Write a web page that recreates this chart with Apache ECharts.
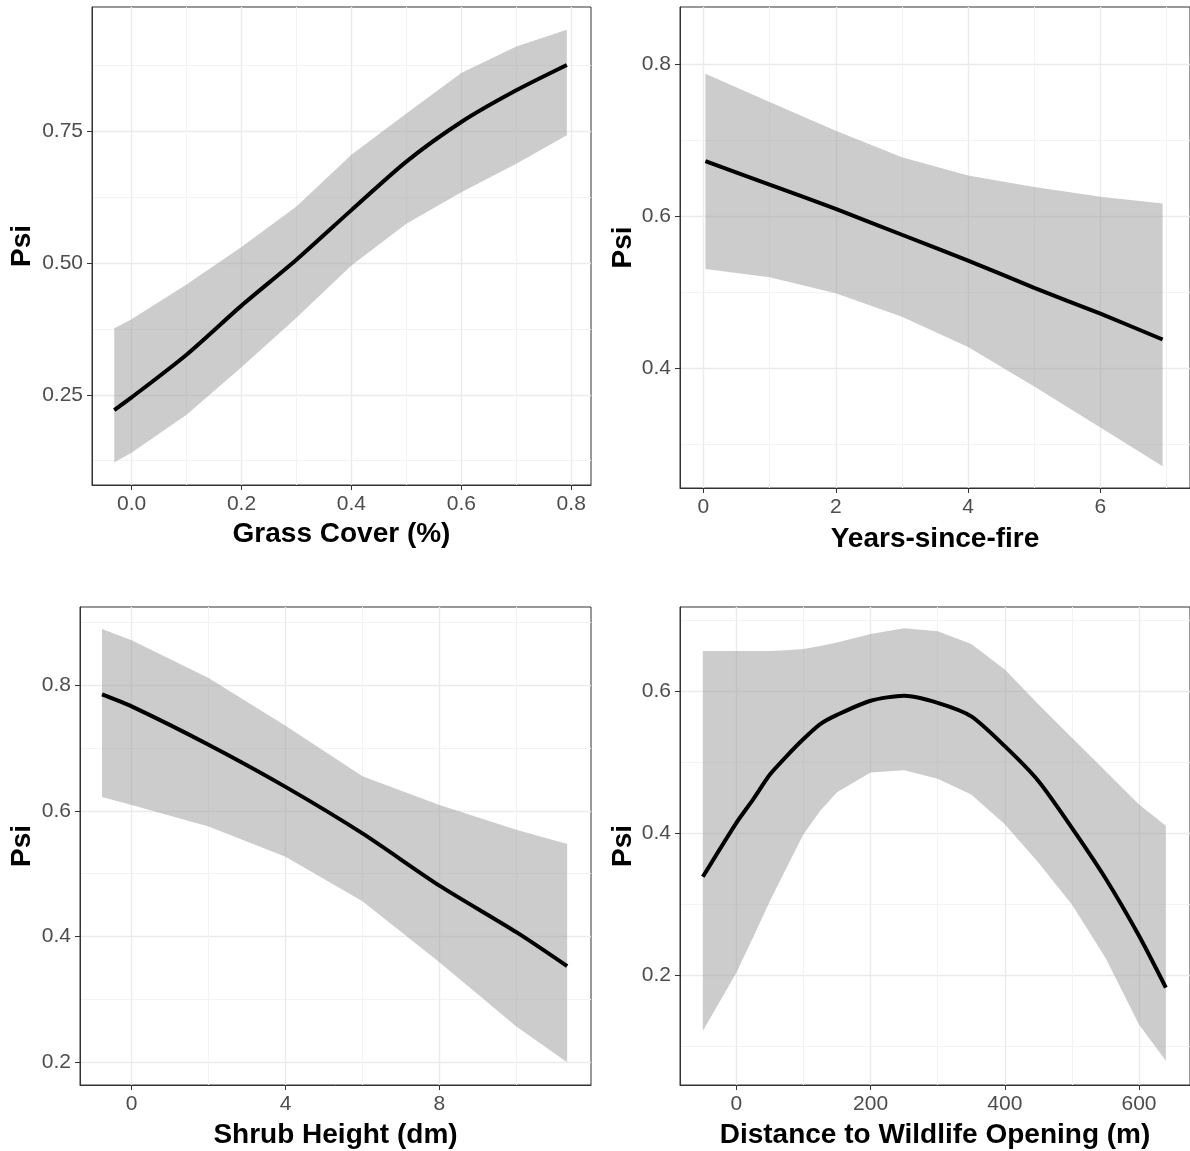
<!DOCTYPE html>
<html><head><meta charset="utf-8">
<script src="https://cdn.jsdelivr.net/npm/echarts@6/dist/echarts.min.js"></script>
<style>html,body{margin:0;padding:0;background:#fff}#c{width:1190px;height:1151px}</style>
</head><body><div id="c"></div>
<script>
// ---- Panel 1: Grass Cover ----
const grassX     = [-0.0315, 0, 0.1, 0.2, 0.3, 0.4, 0.5, 0.6, 0.7, 0.792];
const grassFit   = [0.221, 0.245, 0.326, 0.419, 0.506, 0.600, 0.692, 0.767, 0.827, 0.875];
const grassLower = [0.122, 0.140, 0.212, 0.302, 0.396, 0.495, 0.574, 0.634, 0.688, 0.742];
const grassUpper = [0.376, 0.393, 0.459, 0.530, 0.607, 0.705, 0.783, 0.860, 0.910, 0.942];
const grassXTicks = [0, 0.2, 0.4, 0.6, 0.8];
const grassXLabels = ['0.0', '0.2', '0.4', '0.6', '0.8'];
const grassYTicks = [0.25, 0.5, 0.75];
const grassYLabels = ['0.25', '0.50', '0.75'];
const grassXMinor = [0.1, 0.3, 0.5, 0.7];
const grassYMinor = [0.125, 0.375, 0.625, 0.875];

// ---- Panel 2: Years-since-fire ----
const fireX     = [0.03, 1, 2, 3, 4, 5, 6, 6.94];
const fireFit   = [0.673, 0.642, 0.610, 0.576, 0.542, 0.506, 0.472, 0.438];
const fireLower = [0.531, 0.520, 0.499, 0.468, 0.428, 0.376, 0.322, 0.271];
const fireUpper = [0.788, 0.751, 0.713, 0.678, 0.654, 0.639, 0.626, 0.617];
const fireXTicks = [0, 2, 4, 6];
const fireXLabels = ['0', '2', '4', '6'];
const fireYTicks = [0.4, 0.6, 0.8];
const fireYLabels = ['0.4', '0.6', '0.8'];
const fireXMinor = [1, 3, 5, 7];
const fireYMinor = [0.3, 0.5, 0.7];

// ---- Panel 3: Shrub Height ----
const shrubX     = [-0.77, 0, 2, 4, 6, 8, 10, 11.32];
const shrubFit   = [0.785, 0.766, 0.705, 0.638, 0.564, 0.481, 0.407, 0.353];
const shrubLower = [0.622, 0.609, 0.575, 0.527, 0.456, 0.359, 0.257, 0.200];
const shrubUpper = [0.889, 0.871, 0.811, 0.735, 0.655, 0.609, 0.570, 0.547];
const shrubXTicks = [0, 4, 8];
const shrubXLabels = ['0', '4', '8'];
const shrubYTicks = [0.2, 0.4, 0.6, 0.8];
const shrubYLabels = ['0.2', '0.4', '0.6', '0.8'];
const shrubXMinor = [2, 6, 10];
const shrubYMinor = [0.3, 0.5, 0.7, 0.9];

// ---- Panel 4: Distance to Wildlife Opening ----
const distX     = [-50, 0, 25, 50, 75, 100, 125, 150, 200, 250, 300, 350, 400, 450, 500, 550, 600, 640];
const distFit   = [0.339, 0.415, 0.448, 0.483, 0.509, 0.533, 0.554, 0.567, 0.587, 0.594, 0.584, 0.565, 0.523, 0.474, 0.408, 0.337, 0.256, 0.183];
const distLower = [0.122, 0.204, 0.254, 0.305, 0.352, 0.399, 0.432, 0.458, 0.486, 0.489, 0.477, 0.455, 0.413, 0.359, 0.300, 0.225, 0.131, 0.080];
const distUpper = [0.657, 0.657, 0.657, 0.657, 0.658, 0.660, 0.664, 0.669, 0.681, 0.689, 0.685, 0.667, 0.631, 0.582, 0.535, 0.488, 0.441, 0.411];
const distXTicks = [0, 200, 400, 600];
const distXLabels = ['0', '200', '400', '600'];
const distYTicks = [0.2, 0.4, 0.6];
const distYLabels = ['0.2', '0.4', '0.6'];
const distXMinor = [100, 300, 500];
const distYMinor = [0.1, 0.3, 0.5, 0.7];

const panels = [
  {x: grassX, fit: grassFit, lo: grassLower, hi: grassUpper, xt: grassXTicks, xl: grassXLabels, yt: grassYTicks, yl: grassYLabels, xm: grassXMinor, ym: grassYMinor,
   xName: 'Grass Cover (%)', xr: [-0.072, 0.836], yr: [0.079, 0.985], grid: {left: 92, top: 7, width: 499, height: 478}, yGap: 56, xGap: 35},
  {x: fireX, fit: fireFit, lo: fireLower, hi: fireUpper, xt: fireXTicks, xl: fireXLabels, yt: fireYTicks, yl: fireYLabels, xm: fireXMinor, ym: fireYMinor,
   xName: 'Years-since-fire', xr: [-0.354, 7.354], yr: [0.2424, 0.876], grid: {left: 680, top: 7, width: 511, height: 481}, yGap: 43, xGap: 37},
  {x: shrubX, fit: shrubFit, lo: shrubLower, hi: shrubUpper, xt: shrubXTicks, xl: shrubXLabels, yt: shrubYTicks, yl: shrubYLabels, xm: shrubXMinor, ym: shrubYMinor,
   xName: 'Shrub Height (dm)', xr: [-1.342, 11.94], yr: [0.164, 0.924], grid: {left: 80, top: 607, width: 511, height: 478}, yGap: 44, xGap: 36},
  {x: distX, fit: distFit, lo: distLower, hi: distUpper, xt: distXTicks, xl: distXLabels, yt: distYTicks, yl: distYLabels, xm: distXMinor, ym: distYMinor,
   xName: 'Distance to Wildlife Opening (m)', xr: [-84, 676], yr: [0.0458, 0.719], grid: {left: 680, top: 607, width: 510, height: 478}, yGap: 43, xGap: 36}
];

const FONT = "'Liberation Sans', Arial, sans-serif";
function fmt(ticks, labels) {
  return v => { const i = ticks.findIndex(t => Math.abs(t - v) < 1e-9); return i >= 0 ? labels[i] : ''; };
}

const grids = [], xAxes = [], yAxes = [], series = [];
panels.forEach((p, i) => {
  grids.push(Object.assign({show: true, borderColor: '#333333', borderWidth: 1, backgroundColor: 'transparent', containLabel: false}, p.grid));
  xAxes.push({
    type: 'value', gridIndex: i, min: p.xr[0], max: p.xr[1], position: 'bottom',
    axisLine: {show: true, onZero: false, lineStyle: {color: '#333333', width: 1}},
    axisTick: {show: true, customValues: p.xt, length: 5, lineStyle: {color: '#333333', width: 1}},
    axisLabel: {show: true, customValues: p.xt, formatter: fmt(p.xt, p.xl), color: '#4D4D4D', fontSize: 21, fontFamily: FONT, margin: 9},
    splitLine: {show: true, lineStyle: {color: '#EBEBEB', width: 1.4}},
    name: p.xName, nameLocation: 'middle', nameGap: p.xGap,
    nameTextStyle: {color: '#000', fontSize: 28, fontWeight: 'bold', fontFamily: FONT}
  });
  xAxes.push({
    type: 'value', gridIndex: i, min: p.xr[0], max: p.xr[1], position: 'bottom',
    axisLine: {show: false}, axisTick: {show: false, customValues: p.xm}, axisLabel: {show: false, customValues: p.xm},
    splitLine: {show: true, lineStyle: {color: '#F3F3F3', width: 1}}
  });
  yAxes.push({
    type: 'value', gridIndex: i, min: p.yr[0], max: p.yr[1], position: 'left',
    axisLine: {show: true, onZero: false, lineStyle: {color: '#333333', width: 1}},
    axisTick: {show: true, customValues: p.yt, length: 5, lineStyle: {color: '#333333', width: 1}},
    axisLabel: {show: true, customValues: p.yt, formatter: fmt(p.yt, p.yl), color: '#4D4D4D', fontSize: 21, fontFamily: FONT, margin: 9},
    splitLine: {show: true, lineStyle: {color: '#EBEBEB', width: 1.4}},
    name: 'Psi', nameLocation: 'middle', nameGap: p.yGap,
    nameTextStyle: {color: '#000', fontSize: 28, fontWeight: 'bold', fontFamily: FONT}
  });
  yAxes.push({
    type: 'value', gridIndex: i, min: p.yr[0], max: p.yr[1], position: 'left',
    axisLine: {show: false}, axisTick: {show: false, customValues: p.ym}, axisLabel: {show: false, customValues: p.ym},
    splitLine: {show: true, lineStyle: {color: '#F3F3F3', width: 1}}
  });
  const xi = 2 * i, yi = 2 * i;
  series.push({
    type: 'custom', xAxisIndex: xi, yAxisIndex: yi, silent: true, clip: true, z: 2,
    data: p.x.map((x, k) => [x, p.lo[k], p.hi[k]]),
    renderItem: (params, api) => {
      if (params.dataIndex !== 0) return null;
      const pts = [];
      for (let k = 0; k < p.x.length; k++) pts.push(api.coord([p.x[k], p.hi[k]]));
      for (let k = p.x.length - 1; k >= 0; k--) pts.push(api.coord([p.x[k], p.lo[k]]));
      return {type: 'polygon', shape: {points: pts}, style: {fill: 'rgba(153,153,153,0.5)', stroke: null}};
    }
  });
  series.push({
    type: 'line', xAxisIndex: xi, yAxisIndex: yi, symbol: 'none', smooth: 0.25,
    lineStyle: {width: 4, color: '#000000'}, z: 3,
    data: p.x.map((x, k) => [x, p.fit[k]])
  });
});

const chart = echarts.init(document.getElementById('c'), null, {renderer: 'canvas'});
chart.setOption({animation: false, backgroundColor: '#ffffff', grid: grids, xAxis: xAxes, yAxis: yAxes, series: series});
</script></body></html>
